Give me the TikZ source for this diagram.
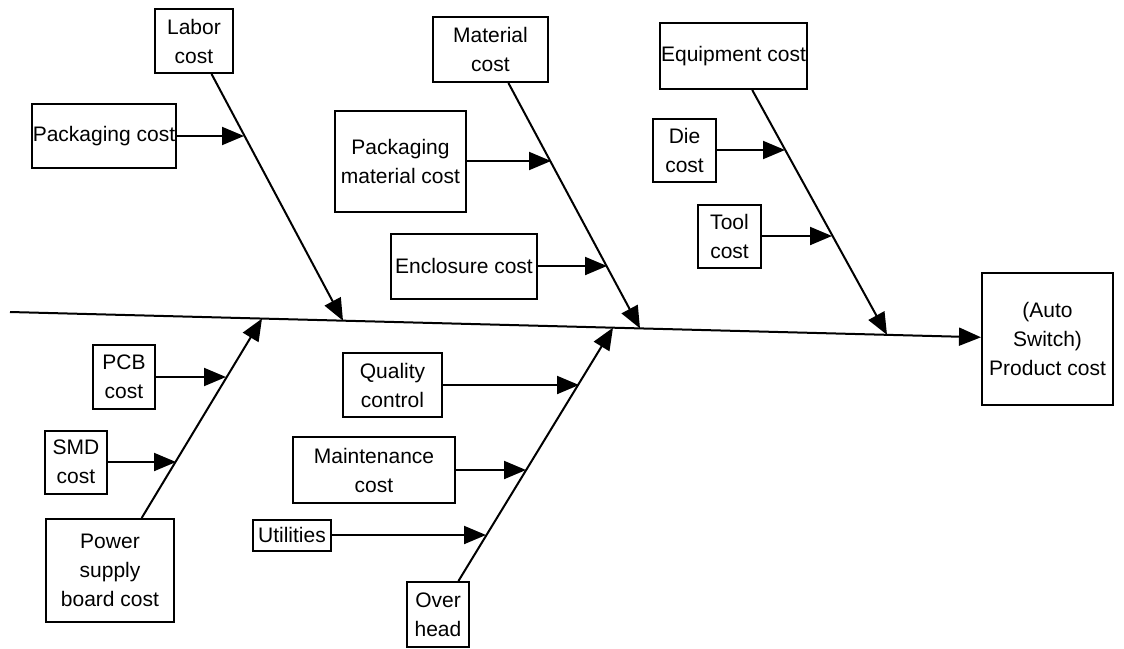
\documentclass[tikz,border=0pt]{standalone}
\usepackage{fontspec}
\setmainfont{Liberation Sans}
\usetikzlibrary{arrows.meta}

\begin{document}
\begin{tikzpicture}[x=0.5pt,y=-0.5pt,
      line width=1pt,
      arr/.style={-{Triangle[length=11pt,width=9pt]}},
      box/.style={draw,inner sep=0pt,align=center,font=\fontsize{10.5}{14.5}\selectfont}]
    \useasboundingbox (0,0) rectangle (1124,648);

    \node[box,minimum width=65.5pt,minimum height=66pt] (prod) at (1047.5,339) {(Auto\\Switch)\\Product cost};
    \coordinate (tail) at (10,312);

    \node[box,minimum width=39pt,minimum height=32pt] (labor) at (194,41) {Labor\\cost};
    \node[box,minimum width=72pt,minimum height=32pt] (pkg) at (104,136) {Packaging cost};
    \node[box,minimum width=57.5pt,minimum height=32.5pt] (matl) at (490.5,49.5) {Material\\cost};
    \node[box,minimum width=65.5pt,minimum height=50.5pt] (pkgmat) at (400.5,161) {Packaging\\material cost};
    \node[box,minimum width=73pt,minimum height=32.5pt] (encl) at (464,266) {Enclosure cost};
    \node[box,minimum width=73.5pt,minimum height=33pt] (equip) at (733.5,56) {Equipment cost};
    \node[box,minimum width=31.5pt,minimum height=31.5pt] (die) at (684.5,150) {Die\\cost};
    \node[box,minimum width=31.5pt,minimum height=31.5pt] (tool) at (729.5,236) {Tool\\cost};

    \node[box,minimum width=31pt,minimum height=32pt] (pcb) at (124,377) {PCB\\cost};
    \node[box,minimum width=31pt,minimum height=31.5pt] (smd) at (76,462) {SMD\\cost};
    \node[box,minimum width=64pt,minimum height=51.5pt] (power) at (110,570.5) {Power\\supply\\board cost};
    \node[box,minimum width=49.5pt,minimum height=32pt] (qc) at (392.5,385) {Quality\\control};
    \node[box,minimum width=81pt,minimum height=33pt] (maint) at (374,470) {Maintenance\\cost};
    \node[box,minimum width=39pt,minimum height=15.5pt] (util) at (292,535) {Utilities};
    \node[box,minimum width=31pt,minimum height=32.5pt] (ovh) at (438,614.5) {Over\\head};

    \coordinate (jLab) at (343,320.7);
    \coordinate (jMat) at (640,328.4);
    \coordinate (jEqu) at (887,334.8);
    \coordinate (jPow) at (262,318.6);
    \coordinate (jOvh) at (613,327.7);

    \coordinate (kPkg) at (244,136);
    \coordinate (kPkgmat) at (551,161);
    \coordinate (kEncl) at (607,266);
    \coordinate (kDie) at (785,150);
    \coordinate (kTool) at (832,236);
    \coordinate (kPcb) at (226,377);
    \coordinate (kSmd) at (176,462);
    \coordinate (kQc) at (579,385);
    \coordinate (kMaint) at (526,470);
    \coordinate (kUtil) at (486,535);

    \draw[arr] (tail) -- (prod);
    \draw[arr] (labor) -- (jLab);
    \draw[arr] (matl) -- (jMat);
    \draw[arr] (equip) -- (jEqu);
    \draw[arr] (power) -- (jPow);
    \draw[arr] (ovh) -- (jOvh);

    \draw[arr] (pkg) -- (kPkg);
    \draw[arr] (pkgmat) -- (kPkgmat);
    \draw[arr] (encl) -- (kEncl);
    \draw[arr] (die) -- (kDie);
    \draw[arr] (tool) -- (kTool);
    \draw[arr] (pcb) -- (kPcb);
    \draw[arr] (smd) -- (kSmd);
    \draw[arr] (qc) -- (kQc);
    \draw[arr] (maint) -- (kMaint);
    \draw[arr] (util) -- (kUtil);
  \end{tikzpicture}
\end{document}
